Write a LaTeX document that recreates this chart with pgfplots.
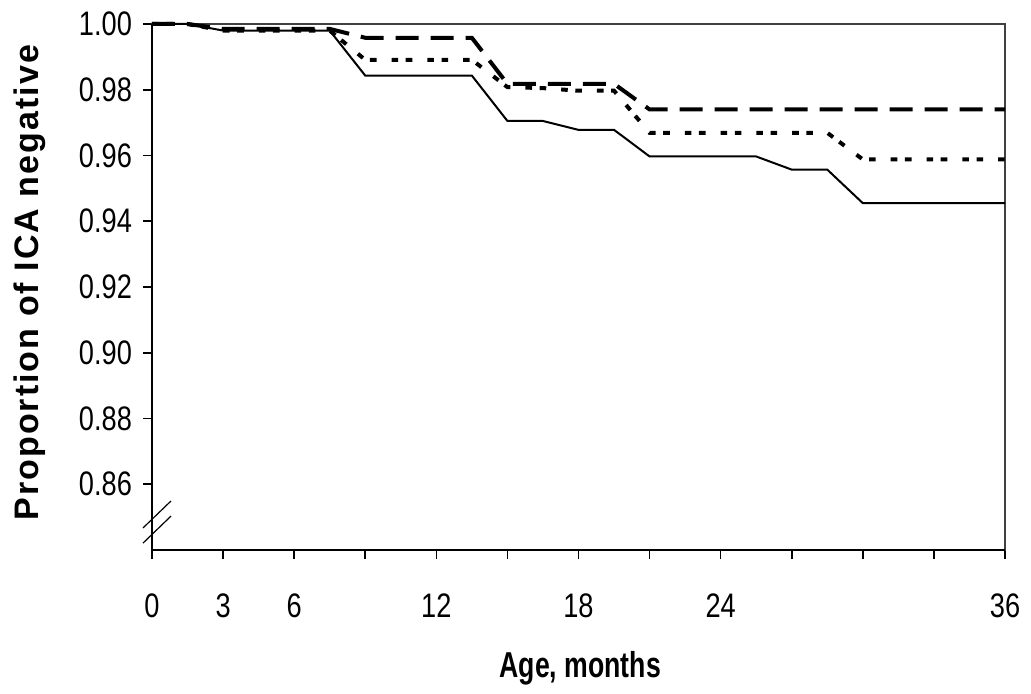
\documentclass[border=0pt]{standalone}
\usepackage{pgfplots}
\pgfplotsset{compat=1.18}
\usepackage{pgfplotstable}
\usetikzlibrary{calc}
\usepackage{fontspec}
\setmainfont{Liberation Sans}
\newfontfamily\tickfont[FakeStretch=0.8]{Liberation Sans}
\newfontfamily\labfont[LetterSpace=6]{Liberation Sans}
\newfontfamily\xlabfont[FakeStretch=0.74]{Liberation Sans}

% Proportion remaining ICA negative by age (months), three groups
\pgfplotstableread{
age  p
0    1.000
1.5  1.000
3    0.998
7.5  0.998
9    0.9843
13.5 0.9843
15   0.9705
16.5 0.9705
18   0.9678
19.5 0.9678
21   0.9597
25.5 0.9597
27   0.9557
28.5 0.9557
30   0.9455
36   0.9455
}\solidtab

\pgfplotstableread{
age  p
0    1.000
1.5  1.000
3    0.9985
7.5  0.9985
9    0.9958
13.5 0.9958
15   0.9818
19.5 0.9818
21   0.9740
36   0.9740
}\dashtab

\pgfplotstableread{
age  p
0    1.000
1.5  1.000
3    0.998
7.5  0.998
9    0.9891
13.5 0.9891
15   0.9808
16.5 0.9805
18   0.9797
19.5 0.9797
21   0.9669
28.5 0.9669
30   0.9588
36   0.9588
}\dottab

\begin{document}
\begin{tikzpicture}
\begin{axis}[
  name=ax,
  scale only axis,
  width=426.5pt, height=263pt,
  xmin=0, xmax=36, ymin=0.84, ymax=1.00,
  clip=false,
  axis line style={line width=0.7pt, draw=black!75},
  xtick={0,3,...,36},
  xticklabels={0,3,6,,12,,18,,24,,,,36},
  ytick={0.86,0.88,0.90,0.92,0.94,0.96,0.98,1.00},
  yticklabels={0.86,0.88,0.90,0.92,0.94,0.96,0.98,1.00},
  xtick pos=bottom, ytick pos=left,
  tick align=outside,
  major tick length=4.5pt,
  tick style={black, line width=0.8pt},
  ticklabel style={font=\tickfont\fontsize{17}{18}\selectfont},
  xticklabel style={anchor=north, yshift=-14pt},
  yticklabel style={anchor=east, xshift=-2pt},
]
\addplot[black, line width=1pt] table[x=age, y=p] {\solidtab};
\addplot[black, line width=2pt, dash pattern=on 11.5pt off 6pt] table[x=age, y=p] {\dashtab};
\addplot[black, line width=2pt, dash pattern=on 3.3pt off 3.8pt on 3.3pt off 7.5pt] table[x=age, y=p] {\dottab};

% heavier left and bottom axis lines
\draw[line width=1pt, black] (rel axis cs:0,1) -- (rel axis cs:0,0) -- (rel axis cs:1,0);
% axis break marks
\draw[black, line width=0.6pt] (axis cs:-0.38,0.8467) -- (axis cs:0.80,0.8549);
\draw[black, line width=0.6pt] (axis cs:-0.38,0.8421) -- (axis cs:0.80,0.8503);

\node[rotate=90, font=\labfont\bfseries\fontsize{17}{18}\selectfont]
  at (axis description cs:-0.143,0.508) {Proportion of ICA negative};
\node[font=\xlabfont\bfseries\fontsize{18}{20}\selectfont]
  at (axis description cs:0.502,-0.224) {Age, months};
\end{axis}
\pgfresetboundingbox
\path ($(ax.south west)+(-76pt,-72pt)$) rectangle ($(ax.north east)+(13pt,12pt)$);
\end{tikzpicture}
\end{document}
